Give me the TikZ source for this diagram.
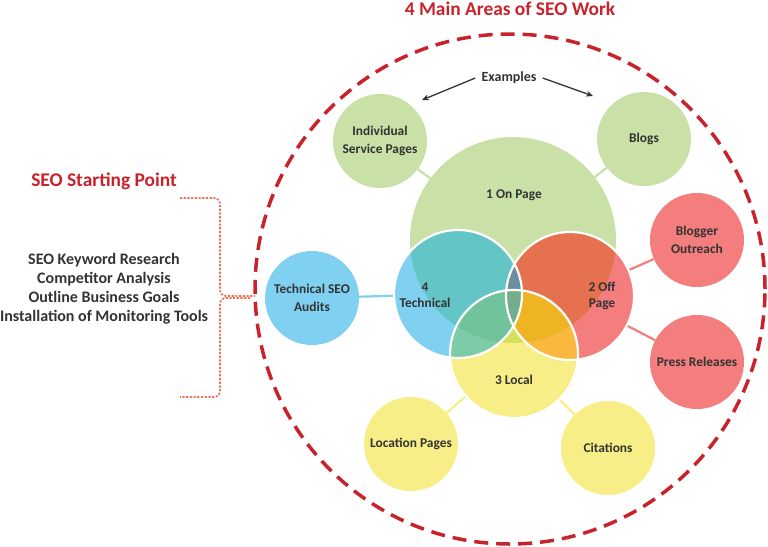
\documentclass[tikz,border=0pt]{standalone}
\usepackage{fontspec}
\setmainfont{Carlito}
\usetikzlibrary{arrows.meta}
\definecolor{cG}{HTML}{C9E1A7}
\definecolor{cB}{HTML}{80D0F2}
\definecolor{cR}{HTML}{F47D7D}
\definecolor{cY}{HTML}{F8EE88}
\definecolor{cGB}{HTML}{63C5C5}
\definecolor{cGR}{HTML}{E5714F}
\definecolor{cGY}{HTML}{D6E05A}
\definecolor{cBY}{HTML}{7CCCA8}
\definecolor{cRY}{HTML}{FBB83F}
\definecolor{cGBR}{HTML}{6C8FA0}
\definecolor{cGBY}{HTML}{71C39B}
\definecolor{cGRY}{HTML}{EFB424}
\definecolor{cGBRY}{HTML}{74AD8A}
\definecolor{cDR}{HTML}{C8232B}
\definecolor{cBr}{HTML}{EE7255}
\definecolor{txt}{HTML}{333333}
\begin{document}
\begin{tikzpicture}[x=1pt,y=-1pt,
  sat/.style={circle, inner sep=0pt, minimum size=94pt, align=center,
    font=\bfseries\fontsize{13.4}{17.5}\selectfont, text=txt},
  venn/.style={circle, inner sep=0pt},
  lbl/.style={align=center, font=\bfseries\fontsize{13.4}{16}\selectfont, text=txt, inner sep=0pt},
  conn/.style={line width=2.2pt},
  brace/.style={cBr, line width=1.7pt, dash pattern=on 2.2pt off 1.5pt, rounded corners=6pt},
  arr/.style={txt, line width=1.3pt, -{Stealth[length=7pt,width=6pt]}},
]
\useasboundingbox (0,0) rectangle (768,546);

% outer dashed area
\node[circle, inner sep=0pt, minimum size=510pt, draw=cDR, line width=3.5pt,
  dash pattern=on 14pt off 8pt] (area) at (510,289) {};

% titles
\node[text=cDR, font=\bfseries\fontsize{19.4}{22}\selectfont] (title) at (510,9) {4 Main Areas of SEO Work};
\node[text=cDR, font=\bfseries\fontsize{19.4}{22}\selectfont] (start) at (104,181) {SEO Starting Point};
\node[align=center, text=txt, font=\bfseries\fontsize{16}{19}\selectfont] (list) at (104,288.5)
  {SEO Keyword Research\\Competitor Analysis\\Outline Business Goals\\Installation of Monitoring Tools};

% brace
\coordinate (b1) at (180,198);
\coordinate (b2) at (220,296);
\coordinate (b3) at (255,296);
\coordinate (b4) at (250,298);
\coordinate (b5) at (220,397);
\coordinate (b6) at (180,397);
\draw[brace] (b1) -| (b2) -- (b3);
\draw[brace] (b4) -| (b5) -- (b6);

% venn circles (named)
\node[venn, minimum size=206pt] (onpage) at (513,240) {};
\node[venn, minimum size=128pt] (tech) at (458,294) {};
\node[venn, minimum size=128pt] (off) at (570,296) {};
\node[venn, minimum size=128pt] (local) at (514,354) {};

% satellites
\node[sat, fill=cG] (indiv) at (380,141) {Individual\\Service Pages};
\node[sat, fill=cG] (blogs) at (644,139) {Blogs};
\node[sat, fill=cR] (outreach) at (697,240) {Blogger\\Outreach};
\node[sat, fill=cR] (press) at (697,362) {Press Releases};
\node[sat, fill=cY] (locp) at (411,444) {Location Pages};
\node[sat, fill=cY] (cit) at (608,448) {Citations};
\node[sat, fill=cB] (audit) at (312,298) {Technical SEO\\Audits};

% connectors
\draw[conn, cG] (indiv) -- (onpage);
\draw[conn, cG] (blogs) -- (onpage);
\draw[conn, cR] (outreach) -- (off);
\draw[conn, cR] (press) -- (off);
\draw[conn, cY] (locp) -- (local);
\draw[conn, cY] (cit) -- (local);
\draw[conn, cB] (audit) -- (tech);

% venn fills
\fill[cG] (onpage.center) circle[radius=103pt];
\fill[cB] (tech.center) circle[radius=64pt];
\fill[cR] (off.center) circle[radius=64pt];
\fill[cY] (local.center) circle[radius=64pt];
\begin{scope}
  \clip (onpage.center) circle[radius=103pt];
  \fill[cGB] (tech.center) circle[radius=64pt];
  \fill[cGR] (off.center) circle[radius=64pt];
  \fill[cGY] (local.center) circle[radius=64pt];
\end{scope}
\begin{scope}
  \clip (tech.center) circle[radius=64pt];
  \fill[cBY] (local.center) circle[radius=64pt];
\end{scope}
\begin{scope}
  \clip (off.center) circle[radius=64pt];
  \fill[cRY] (local.center) circle[radius=64pt];
\end{scope}
\begin{scope}
  \clip (onpage.center) circle[radius=103pt];
  \clip (tech.center) circle[radius=64pt];
  \fill[cGBR] (off.center) circle[radius=64pt];
  \fill[cGBY] (local.center) circle[radius=64pt];
\end{scope}
\begin{scope}
  \clip (onpage.center) circle[radius=103pt];
  \clip (off.center) circle[radius=64pt];
  \fill[cGRY] (local.center) circle[radius=64pt];
\end{scope}
\begin{scope}
  \clip (onpage.center) circle[radius=103pt];
  \clip (tech.center) circle[radius=64pt];
  \clip (off.center) circle[radius=64pt];
  \fill[cGBRY] (local.center) circle[radius=64pt];
\end{scope}
\draw[white, line width=2.2pt] (tech.center) circle[radius=64pt];
\draw[white, line width=2.2pt] (off.center) circle[radius=64pt];
\draw[white, line width=2.2pt] (local.center) circle[radius=64pt];

% venn labels
\node[lbl] (onpageL) at (514,195) {1 On Page};
\node[lbl] (techL) at (425,295) {4\\Technical};
\node[lbl] (offL) at (602,296) {2 Off\\Page};
\node[lbl] (localL) at (514,380) {3 Local};

% examples
\node[text=txt, font=\bfseries\fontsize{14}{16}\selectfont, inner sep=6pt] (ex) at (509,78) {Examples};
\coordinate (exL) at (422,100);
\coordinate (exR) at (593,96);
\draw[arr] (ex.west) -- (exL);
\draw[arr] (ex.east) -- (exR);
\end{tikzpicture}
\end{document}
